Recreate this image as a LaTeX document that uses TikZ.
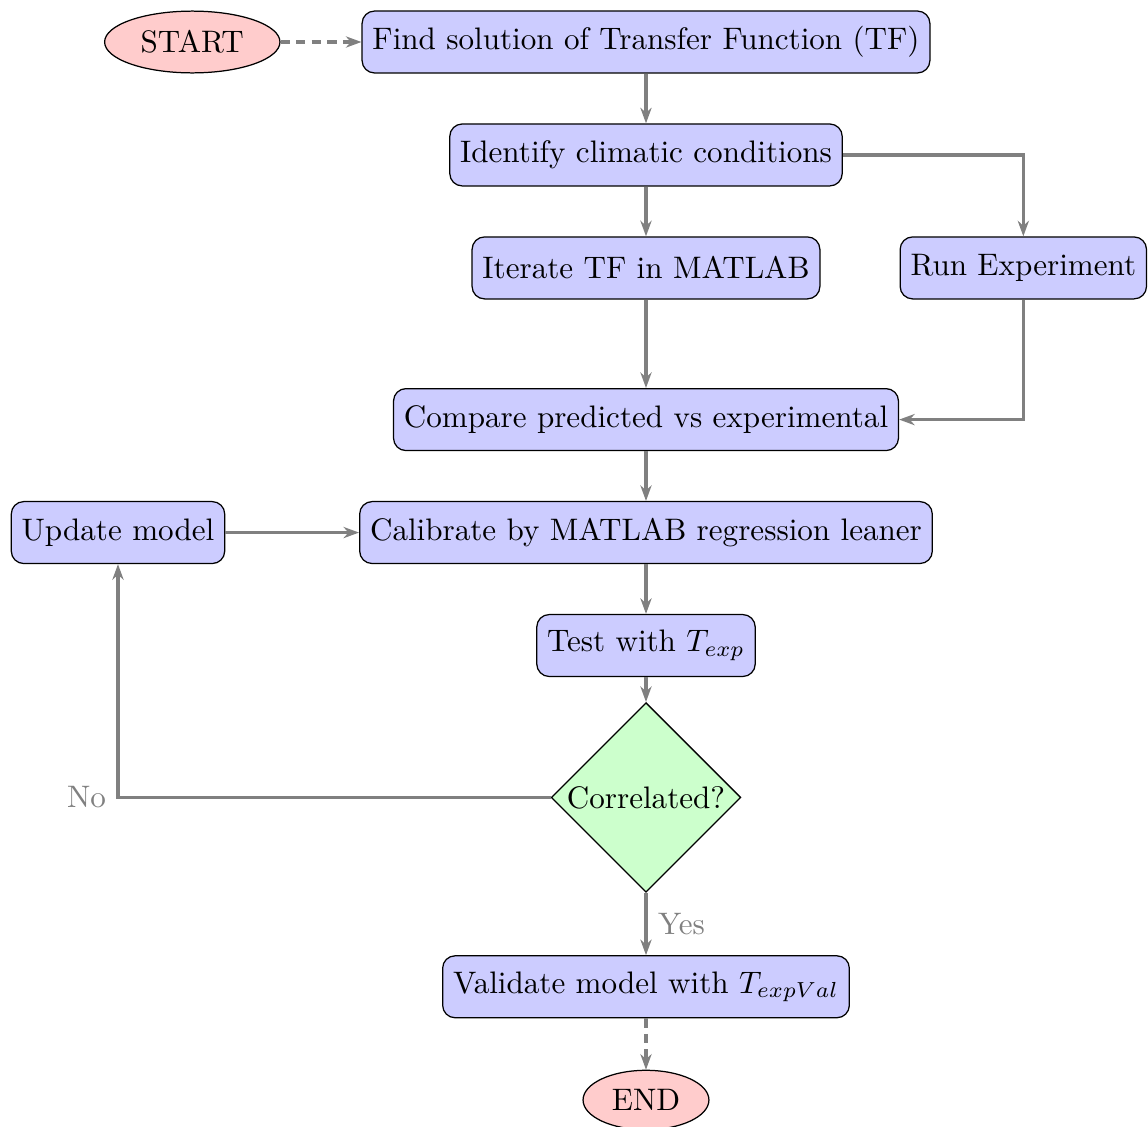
\documentclass[tikz,border=0pt]{standalone}
\usepackage{amsmath}
\usepackage{tikz}
\usetikzlibrary{shapes.geometric, arrows.meta, positioning}
\definecolor{cBox}{RGB}{204,204,255}
\definecolor{cTerm}{RGB}{255,204,204}
\definecolor{cDec}{RGB}{204,255,204}
\tikzset{
	terminal/.style ={ellipse, text centered, draw=black, fill=cTerm},
	process/.style  ={rectangle, rounded corners=4pt, minimum height=0.7cm, text centered, align=center, draw=black, fill=cBox},
	decision/.style ={diamond, minimum width=61pt, minimum height=61pt, inner sep=0pt, text centered, draw=black, fill=cDec},
	flowarrow/.style={-{Stealth[length=5pt, width=3.6pt, inset=1.6pt]}, line width=1.1pt, draw=gray},
	dasharrow/.style={flowarrow, densely dashed},
	branch/.style   ={text=gray},
}
\begin{document}
\begin{tikzpicture}[node distance=16pt]
	\useasboundingbox (-207.7pt,-348.8pt) rectangle (161.4pt,13.5pt);
	\node[process] (findtf) at (0,0) {Find solution of Transfer Function (TF)};
	\node[terminal, left=26pt of findtf] (start) {START};
	\node[process, below=of findtf] (climate) {Identify climatic conditions};
	\node[process, below=of climate] (iterate) {Iterate TF in MATLAB};
	\node[process, right=25.4pt of iterate] (experiment) {Run Experiment};
	\node[process, below=1cm of iterate] (compare) {Compare predicted vs experimental};
	\node[process, below=of compare] (calib) {Calibrate by MATLAB regression leaner};
	\node[process, left=43pt of calib] (update) {Update model};
	\node[process, below=of calib] (test) {Test with $T_{exp}$};
	\node[decision, below=8pt of test] (correl) {Correlated?};
	\node[process, below=20pt of correl] (validate) {Validate model with $T_{expVal}$};
	\node[terminal, below=16.5pt of validate] (finish) {END};
	% connectors
	\draw[dasharrow] (start) -- (findtf);
	\draw[flowarrow] (findtf) -- (climate);
	\draw[flowarrow] (climate) -- (iterate);
	\draw[flowarrow] (climate.east) -| (experiment.north);
	\draw[flowarrow] (iterate) -- (compare);
	\draw[flowarrow] (experiment.south) |- (compare.east);
	\draw[flowarrow] (compare) -- (calib);
	\draw[flowarrow] (update) -- (calib);
	\draw[flowarrow] (calib) -- (test);
	\draw[flowarrow] (test) -- (correl);
	\draw[flowarrow] (correl.west) -| node[branch, left] {No} (update.south);
	\draw[flowarrow] (correl) -- node[branch, right] {Yes} (validate);
	\draw[dasharrow] (validate) -- (finish);
\end{tikzpicture}
\end{document}
